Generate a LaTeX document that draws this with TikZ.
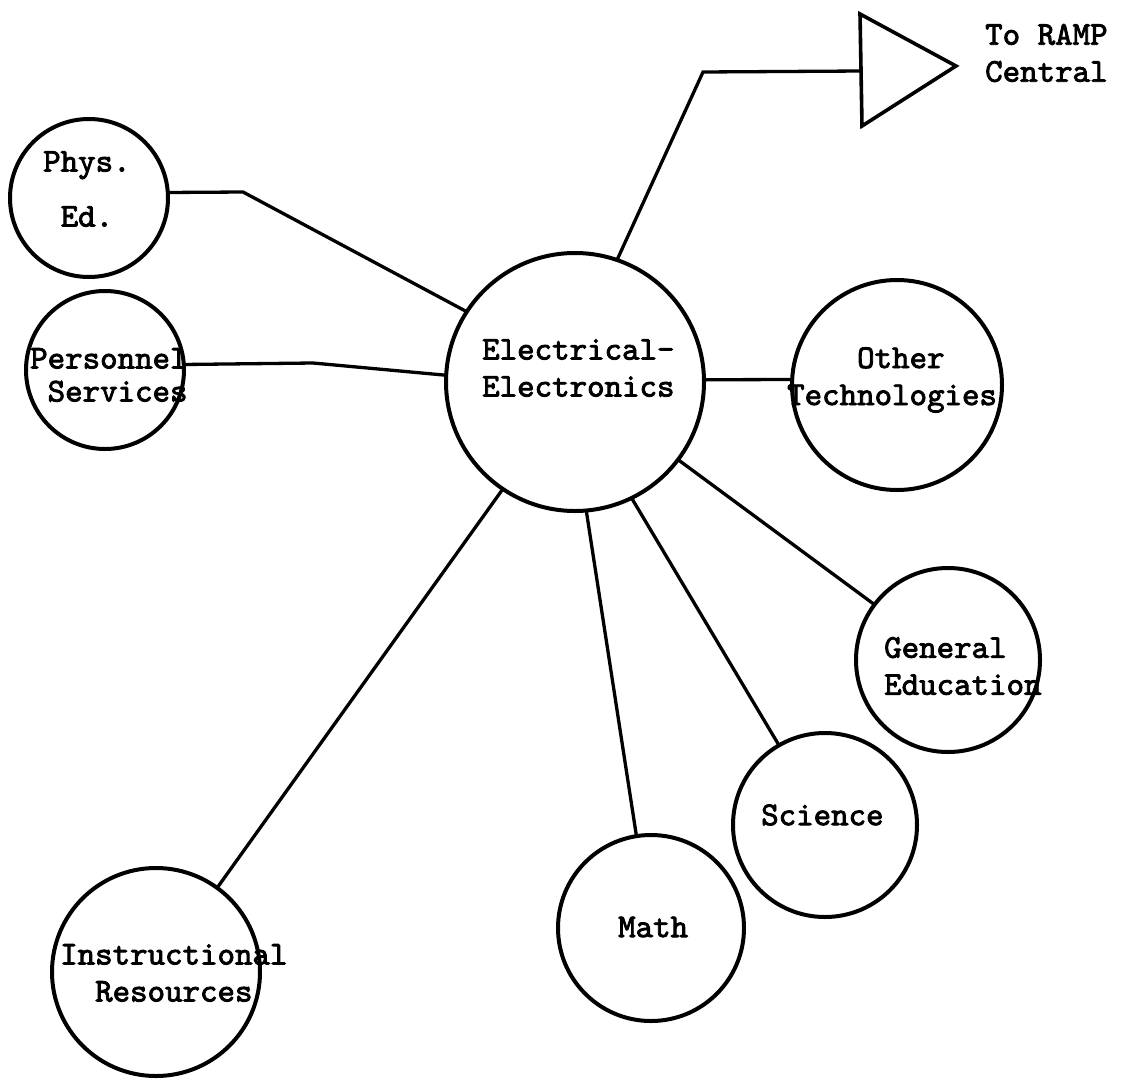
\documentclass[tikz,border=0pt]{standalone}
\usepackage{fontspec}
\newfontfamily\typewriter{lmmono10-regular.otf}[FakeBold=2.5]
\begin{document}
\begin{tikzpicture}[x=1pt,y=-1pt,
  unit/.style={circle,draw,line width=4pt,inner sep=0pt,outer sep=0pt},
  link/.style={line width=3.3pt,line join=miter},
  txt/.style={anchor=west,align=left,inner sep=0pt,
    font=\typewriter\fontsize{33.3}{37}\selectfont}]
\useasboundingbox (0,0) rectangle (1129,1079);

% department circles
\node[unit,minimum size=258pt] (ee) at (575,382) {};
\node[unit,minimum size=158pt] (pe) at (89,198) {};
\node[unit,minimum size=158pt] (ps) at (105,370) {};
\node[unit,minimum size=210pt] (ot) at (897,385) {};
\node[unit,minimum size=184pt] (ge) at (948,660) {};
\node[unit,minimum size=184pt] (sc) at (825,825) {};
\node[unit,minimum size=186pt] (ma) at (651,928) {};
\node[unit,minimum size=208pt] (ir) at (156,972) {};

% outgoing triangle
\coordinate (tri-top) at (860,14);
\coordinate (tri-tip) at (956,66);
\coordinate (tri-bot) at (862,126);
\coordinate (tri-in) at (861,71);
\draw[line width=3.6pt,line join=miter] (tri-top) -- (tri-tip) -- (tri-bot) -- cycle;

% texts
\node[txt] (ee-t) at (482,368) {Electrical-\\Electronics};
\node[txt] (pe-t) at (43,189) {Phys.\\[18pt]\phantom{E}Ed.};
\node[txt] (ps-t) at (30,375) {Personnel\\[-4pt]\phantom{S}Services};
\node[txt] (ot-t) at (787,380) {\phantom{Othe}Other\\Technologies};
\node[txt] (ge-t) at (884,666) {General\\Education};
\node[txt] (sc-t) at (761,815) {Science};
\node[txt] (ma-t) at (618,927) {Math};
\node[txt] (ir-t) at (60,973) {Instructional\\\phantom{Re}Resources};
\node[txt] (ramp-t) at (985,53) {To RAMP\\Central};

% bends
\coordinate (pe-bend) at (243,192);
\coordinate (ps-bend) at (313,363);
\coordinate (ramp-bend) at (703,72);

% connectors
\draw[link] (pe.4) -- (pe-bend) -- (ee.147);
\draw[link] (ps.4) -- (ps-bend) -- (ee.177);
\draw[link] (ee.71) -- (ramp-bend) -- (tri-in);
\draw[link] (ee.1) -- (ot.177);
\draw[link] (ee.323) -- (ge.143);
\draw[link] (ee.296) -- (sc.120);
\draw[link] (ee.275) -- (ma.99);
\draw[link] (ee.236) -- (ir.54);
\end{tikzpicture}
\end{document}
